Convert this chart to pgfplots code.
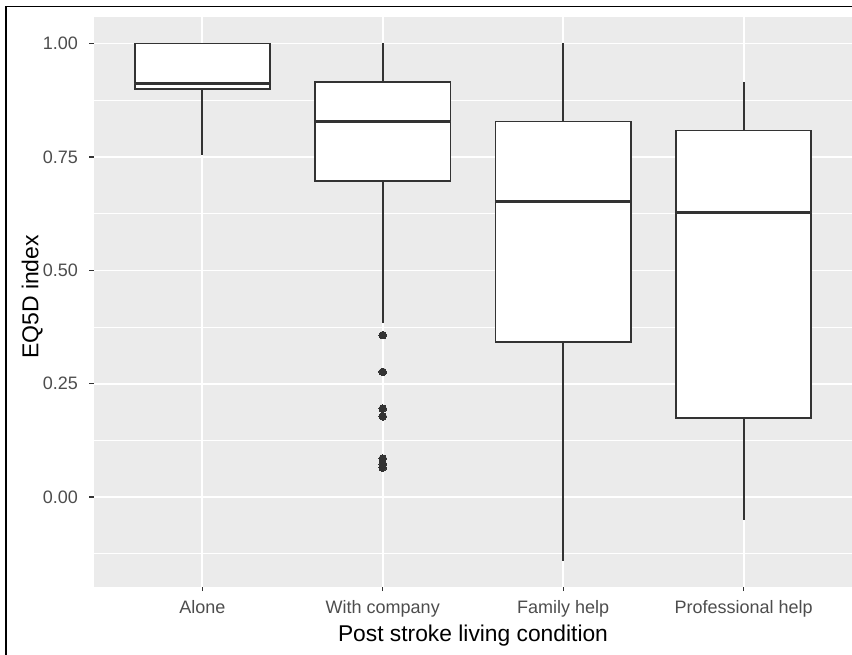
\documentclass[border=0pt]{standalone}
\usepackage{pgfplots}
\pgfplotsset{compat=1.18}
\usepgfplotslibrary{statistics}
\usepackage{fontspec}
\setmainfont{Liberation Sans}
\definecolor{panelgray}{HTML}{EBEBEB}
\definecolor{boxcol}{HTML}{333333}
\definecolor{tickgray}{HTML}{4D4D4D}
\begin{document}
\begin{tikzpicture}[x=1pt,y=1pt]
\useasboundingbox (0,0) rectangle (852,655);
\begin{axis}[
  at={(94pt,68.3pt)}, anchor=south west,
  width=758pt, height=569.4pt, scale only axis,
  xmin=0.4, xmax=4.6, ymin=-0.1974, ymax=1.0577,
  axis background/.style={fill=panelgray},
  axis lines*=left,
  axis line style={draw=none},
  xtick={1,2,3,4},
  xticklabels={Alone, With company, Family help, Professional help},
  ytick={0,0.25,0.5,0.75,1},
  minor ytick={-0.125,0.125,0.375,0.625,0.875},
  grid=both,
  major grid style={white, line width=1.6pt},
  minor grid style={white, line width=0.8pt},
  tick align=outside,
  major tick length=4.5pt,
  minor tick length=0pt,
  tick style={boxcol, line width=1.3pt},
  /pgf/number format/assume math mode=true,
  yticklabel style={font=\fontsize{18}{21}\selectfont, text=tickgray, xshift=-8pt,
    /pgf/number format/fixed, /pgf/number format/fixed zerofill,
    /pgf/number format/precision=2},
  xticklabel style={font=\fontsize{18}{21}\selectfont, text=tickgray, yshift=-6pt},
  boxplot/draw direction=y,
  boxplot/every box/.style={draw=boxcol, fill=white, line width=1.8pt},
  boxplot/every whisker/.style={draw=boxcol, line width=1.8pt},
  boxplot/every median/.style={draw=boxcol, line width=3.2pt},
  clip=false,
]
\addplot[draw=boxcol, fill=white, line width=1.8pt,
  boxplot prepared={median=0.911, upper quartile=1.0, lower quartile=0.900,
    upper whisker=1.0, lower whisker=0.754, draw position=1,
    box extend=0.75, whisker extend=0}] coordinates {};
\addplot[draw=boxcol, fill=white, line width=1.8pt,
  boxplot prepared={median=0.828, upper quartile=0.915, lower quartile=0.697,
    upper whisker=1.0, lower whisker=0.383, draw position=2,
    box extend=0.75, whisker extend=0}] coordinates {};
\addplot[draw=boxcol, fill=white, line width=1.8pt,
  boxplot prepared={median=0.652, upper quartile=0.828, lower quartile=0.3425,
    upper whisker=1.0, lower whisker=-0.140, draw position=3,
    box extend=0.75, whisker extend=0}] coordinates {};
\addplot[draw=boxcol, fill=white, line width=1.8pt,
  boxplot prepared={median=0.628, upper quartile=0.808, lower quartile=0.1746,
    upper whisker=0.915, lower whisker=-0.051, draw position=4,
    box extend=0.75, whisker extend=0}] coordinates {};
\addplot[only marks, mark=*, mark size=3.8pt, color=boxcol,
  mark options={fill=boxcol, draw=boxcol, line width=0pt}] coordinates {
  (2,0.357) (2,0.276) (2,0.195) (2,0.178) (2,0.085) (2,0.073) (2,0.065)};
\end{axis}
\node[font=\fontsize{22.8}{26}\selectfont, anchor=base] at (473,13.3) {Post stroke living condition};
\node[font=\fontsize{23}{26}\selectfont, rotate=90, anchor=base] at (38.3,358) {EQ5D index};
\draw[black, line width=1.8pt] (6,0) -- (6,648.5) -- (852,648.5);
\end{tikzpicture}
\end{document}
